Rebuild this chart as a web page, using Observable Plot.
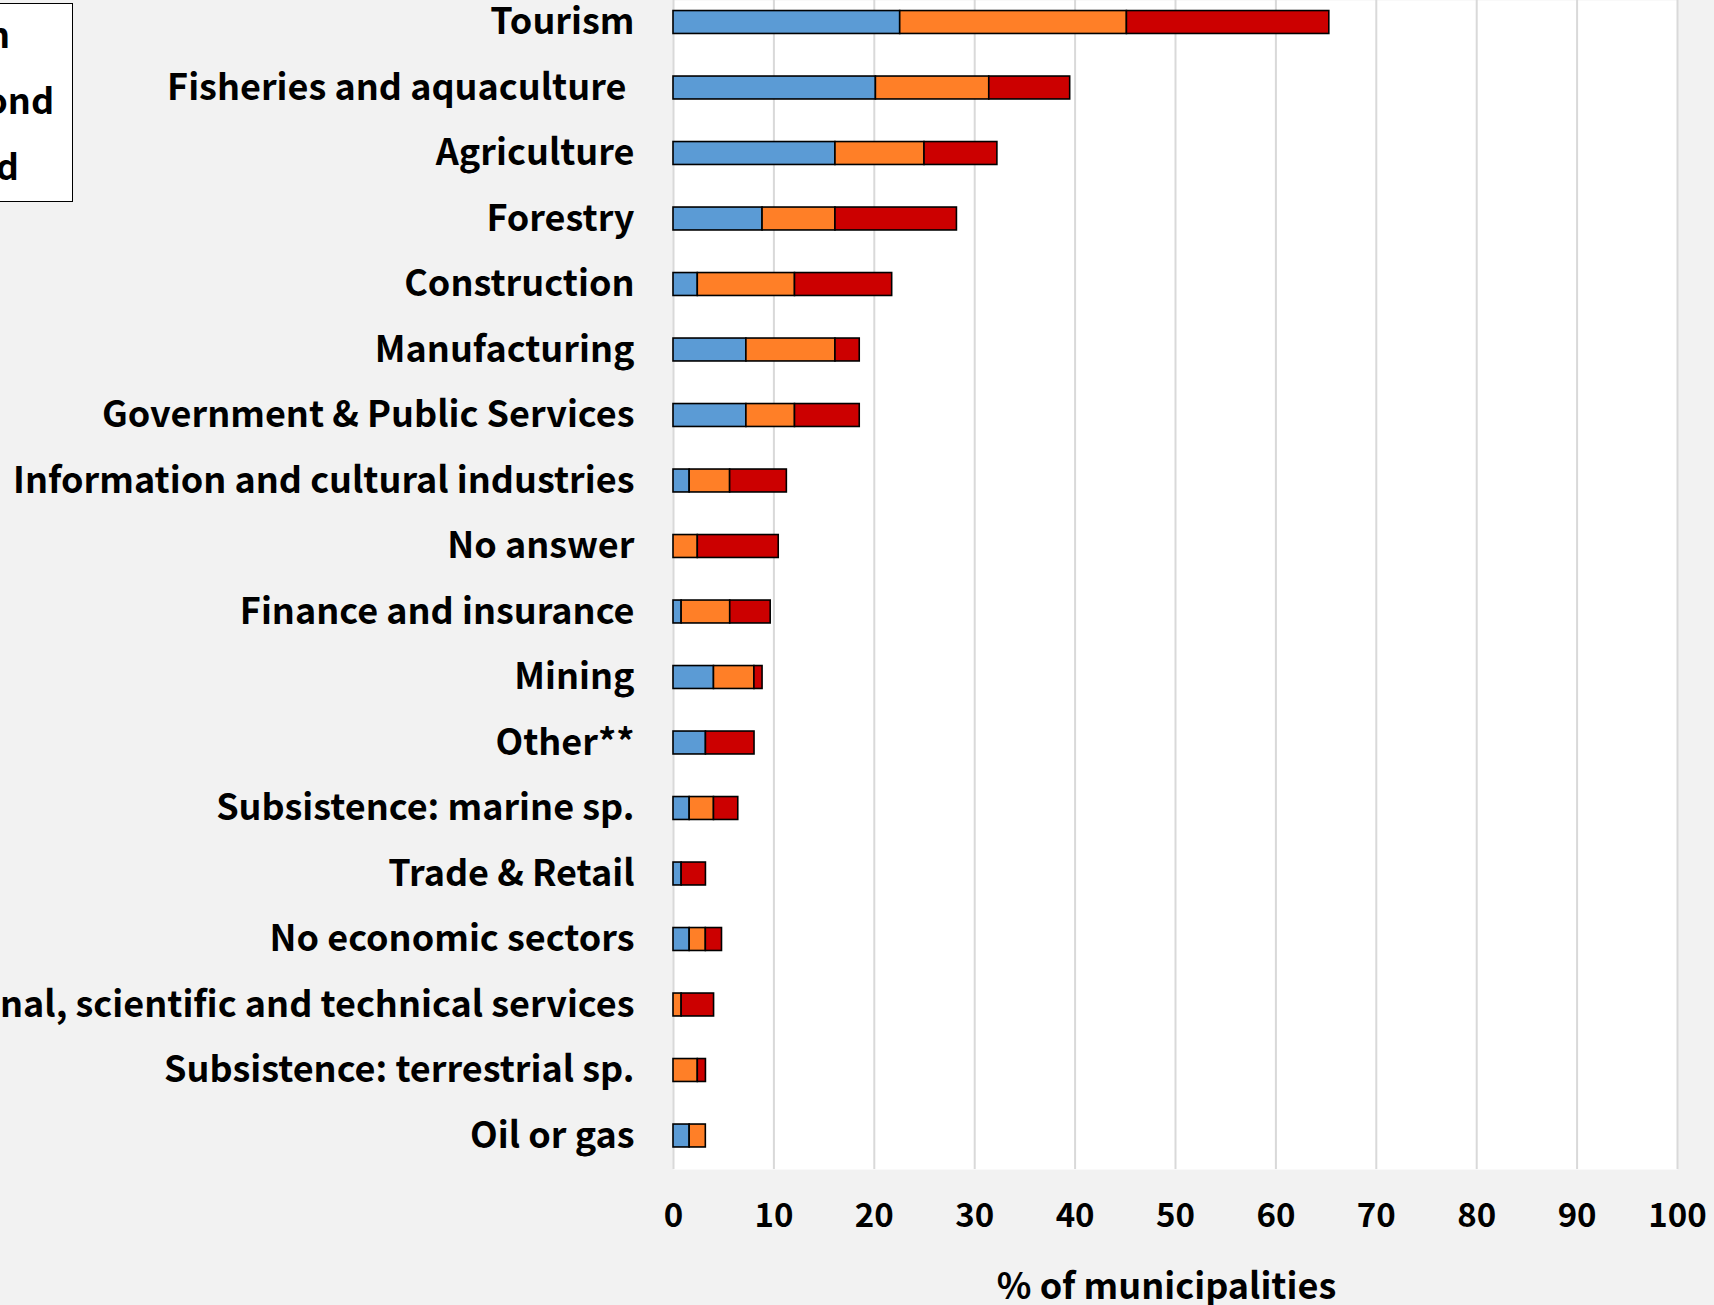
<!DOCTYPE html>
<html>
<head>
<meta charset="utf-8">
<script src="https://cdn.jsdelivr.net/npm/d3@7"></script>
<script src="https://cdn.jsdelivr.net/npm/@observablehq/plot@0.6"></script>
<style>
  html, body { margin: 0; padding: 0; background: #f2f2f2; }
  #wrap { position: relative; width: 1714px; height: 1305px; overflow: hidden; background: #f2f2f2; }
  #chart svg text { white-space: pre; }
  #legend { position: absolute; left: -10px; top: 3px; width: 81px; height: 197px; border: 1.5px solid #000;
            background: #fff; font-family: "Noto Sans CJK KR", sans-serif; font-weight: bold; font-size: 36px; }
  #legendClip { position: absolute; left: 0; top: 0; width: 81px; height: 197px; overflow: hidden; }
  .item { position: absolute; display: flex; align-items: center; white-space: nowrap; line-height: 1.2; }
  .sw { width: 24px; height: 24px; border: 1.5px solid #000; margin-right: 10px; }
</style>
</head>
<body>
<div id="wrap">
  <div id="chart"></div>
  <div id="legend"><div id="legendClip"></div></div>
</div>
<script>
const sectors = [
  "Tourism",
  "Fisheries and aquaculture ",
  "Agriculture",
  "Forestry",
  "Construction",
  "Manufacturing",
  "Government & Public Services",
  "Information and cultural industries",
  "No answer",
  "Finance and insurance",
  "Mining",
  "Other**",
  "Subsistence: marine sp.",
  "Trade & Retail",
  "No economic sectors",
  "Professional, scientific and technical services",
  "Subsistence: terrestrial sp.",
  "Oil or gas"
];
const seriesNames = ["Main", "Second", "Third"];
const seriesColors = ["#5b9bd5", "#ff7f27", "#cc0000"];
// % of municipalities per sector
const mainValues   = [22.58, 20.16, 16.13, 8.87, 2.42, 7.26, 7.26, 1.61, 0.00, 0.81, 4.03, 3.23, 1.61, 0.81, 1.61, 0.00, 0.00, 1.61];
const secondValues = [22.58, 11.29,  8.87, 7.26, 9.68, 8.87, 4.84, 4.03, 2.42, 4.84, 4.03, 0.00, 2.42, 0.00, 1.61, 0.81, 2.42, 1.61];
const thirdValues  = [20.16,  8.06,  7.26, 12.10, 9.68, 2.42, 6.45, 5.65, 8.06, 4.03, 0.81, 4.84, 2.42, 2.42, 1.61, 3.23, 0.81, 0.00];
const xTicks = [0, 10, 20, 30, 40, 50, 60, 70, 80, 90, 100];
const xLabel = "% of municipalities";

const seriesValues = [mainValues, secondValues, thirdValues];
const rows = [];
sectors.forEach((s, i) => {
  seriesNames.forEach((name, j) => {
    const v = seriesValues[j][i];
    if (v > 0) rows.push({sector: s, series: name, value: v});
  });
});

const font = "'Noto Sans CJK KR', sans-serif";
const chart = Plot.plot({
  width: 1714,
  height: 1305,
  marginLeft: 673,
  marginRight: 37,
  marginTop: 0,
  marginBottom: 136,
  style: {background: "transparent", fontFamily: font, color: "#000", overflow: "visible"},
  x: {domain: [0, 100]},
  y: {domain: sectors, range: [-10.75, 1168.25], paddingInner: 0.65, paddingOuter: 0.325, round: false},
  color: {domain: seriesNames, range: seriesColors},
  marks: [
    Plot.frame({fill: "#fff", stroke: null}),
    Plot.ruleX(xTicks, {stroke: "#d9d9d9", strokeWidth: 2}),
    Plot.barX(rows, Plot.stackX({y: "sector", x: "value", fill: "series", order: seriesNames, stroke: "#000", strokeWidth: 1.6})),
    Plot.axisY({tickSize: 0, tickPadding: 39, fontSize: 36, fontWeight: "bold", label: null}),
    Plot.axisX({ticks: xTicks, tickSize: 0, tickPadding: 34, fontSize: 33, fontWeight: "bold", label: null}),
    Plot.text([xLabel], {text: d => d, frameAnchor: "bottom", lineAnchor: "bottom", dy: 129, dx: -9,
                         fontSize: 36, fontWeight: "bold", fill: "#000"})
  ]
});
document.getElementById("chart").appendChild(chart);

// Legend
const clip = document.getElementById("legendClip");
seriesNames.forEach((name, j) => {
  const it = document.createElement("div");
  it.className = "item";
  it.style.left = "-103px";
  it.style.top = (7 + j * 66) + "px";
  const sw = document.createElement("div");
  sw.className = "sw";
  sw.style.background = seriesColors[j];
  const tx = document.createElement("span");
  tx.textContent = name;
  it.appendChild(sw);
  it.appendChild(tx);
  clip.appendChild(it);
});
</script>
</body>
</html>
